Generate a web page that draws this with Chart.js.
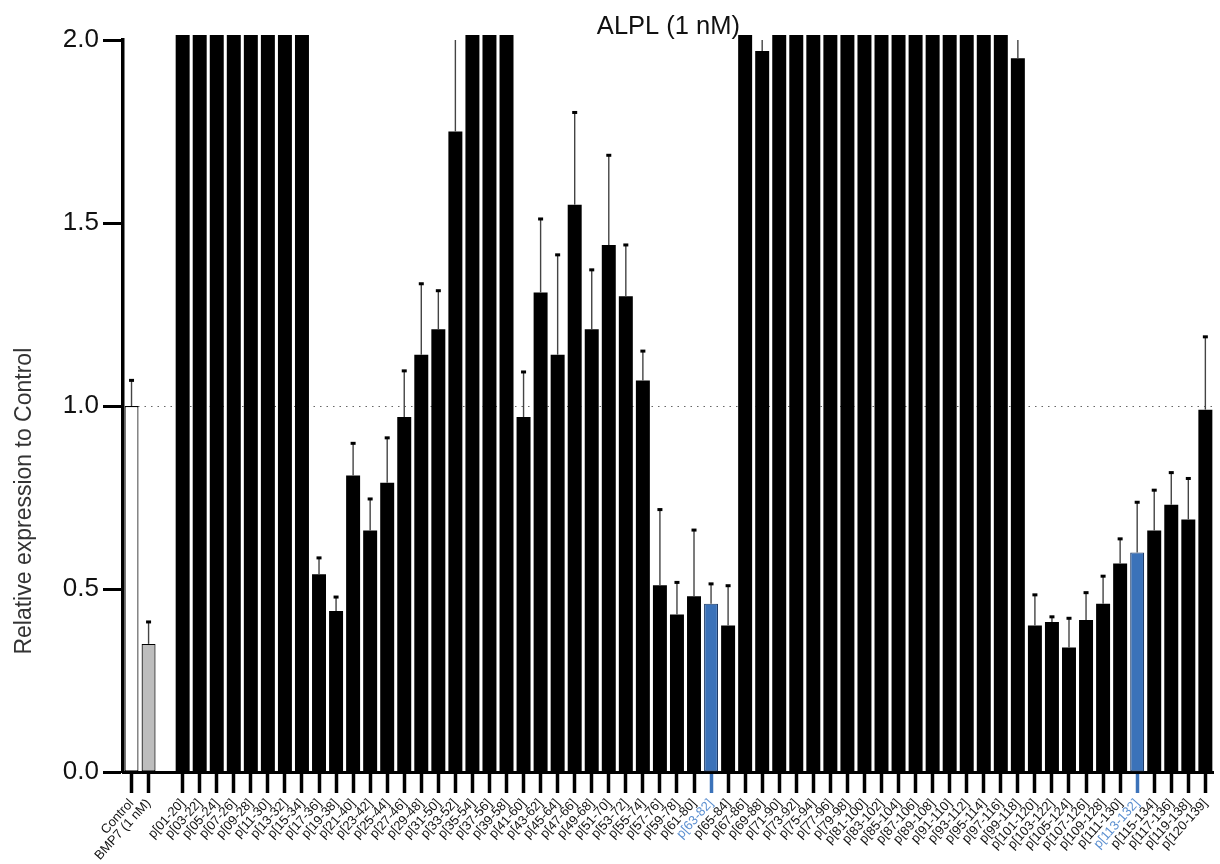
<!DOCTYPE html>
<html>
<head>
<meta charset="utf-8">
<script src="https://cdn.jsdelivr.net/npm/chart.js@4.4.1/dist/chart.umd.min.js"></script>
<style>
  html, body { margin: 0; padding: 0; background: #fff; }
  #wrap { width: 1220px; height: 864px; }
</style>
</head>
<body>
<div id="wrap"><canvas id="alplChart" width="1220" height="864"></canvas></div>
<script>
// categories ('' is the empty slot between controls and peptides)
const categories = ['Control', 'BMP7 (1 nM)', '',
  'p[01-20]', 'p[03-22]', 'p[05-24]', 'p[07-26]', 'p[09-28]', 'p[11-30]', 'p[13-32]', 'p[15-34]',
  'p[17-36]', 'p[19-38]', 'p[21-40]', 'p[23-42]', 'p[25-44]', 'p[27-46]', 'p[29-48]', 'p[31-50]',
  'p[33-52]', 'p[35-54]', 'p[37-56]', 'p[39-58]', 'p[41-60]', 'p[43-62]', 'p[45-64]', 'p[47-66]',
  'p[49-68]', 'p[51-70]', 'p[53-72]', 'p[55-74]', 'p[57-76]', 'p[59-78]', 'p[61-80]', 'p[63-82]',
  'p[65-84]', 'p[67-86]', 'p[69-88]', 'p[71-90]', 'p[73-92]', 'p[75-94]', 'p[77-96]', 'p[79-98]',
  'p[81-100]', 'p[83-102]', 'p[85-104]', 'p[87-106]', 'p[89-108]', 'p[91-110]', 'p[93-112]', 'p[95-114]',
  'p[97-116]', 'p[99-118]', 'p[101-120]', 'p[103-122]', 'p[105-124]', 'p[107-126]', 'p[109-128]', 'p[111-130]',
  'p[113-132]', 'p[115-134]', 'p[117-136]', 'p[119-138]', 'p[120-139]'];

// mean relative expression (bars running off the top are > 2.0)
const means = [1.00, 0.35, null,
  2.6, 2.6, 2.6, 2.6, 2.6, 2.6, 2.6, 2.6,
  0.54, 0.44, 0.81, 0.66, 0.79, 0.97, 1.14, 1.21,
  1.75, 2.6, 2.6, 2.6, 0.97, 1.31, 1.14, 1.55,
  1.21, 1.44, 1.30, 1.07, 0.51, 0.43, 0.48, 0.46,
  0.40, 2.6, 1.97, 2.6, 2.6, 2.6, 2.6, 2.6,
  2.6, 2.6, 2.6, 2.6, 2.6, 2.6, 2.6, 2.6,
  2.6, 1.95, 0.40, 0.41, 0.34, 0.415, 0.46, 0.57,
  0.60, 0.66, 0.73, 0.69, 0.99];

// top of the error bar (mean + SD)
const errTop = [1.07, 0.41, null,
  null, null, null, null, null, null, null, null,
  0.585, 0.478, 0.898, 0.746, 0.913, 1.096, 1.334, 1.315,
  2.1, null, null, null, 1.093, 1.511, 1.413, 1.802,
  1.372, 1.685, 1.44, 1.15, 0.717, 0.518, 0.661, 0.514,
  0.509, null, 2.05, null, null, null, null, null,
  null, null, null, null, null, null, null, null,
  null, 2.05, 0.484, 0.424, 0.42, 0.49, 0.535, 0.637,
  0.737, 0.77, 0.818, 0.802, 1.189];

const yTicks = [0, 0.5, 1.0, 1.5, 2.0];
const highlighted = ['p[63-82]', 'p[113-132]'];
const yTitle = 'Relative expression to Control';

const BLUE = '#3b72b9';
const fontFamily = "'Liberation Sans', Arial, sans-serif";

function fillFor(label) {
  if (label === 'Control') return '#ffffff';
  if (label === 'BMP7 (1 nM)') return '#bdbdbd';
  if (highlighted.includes(label)) return BLUE;
  return '#000000';
}

// dotted reference line at 1.0, drawn behind the bars
const refLine = {
  id: 'refLine',
  beforeDatasetsDraw(chart) {
    const { ctx, chartArea, scales } = chart;
    const y = Math.round(scales.y.getPixelForValue(1.0)) + 0.5;
    ctx.save();
    ctx.strokeStyle = '#666';
    ctx.lineWidth = 1.2;
    ctx.setLineDash([1.5, 5]);
    ctx.beginPath();
    ctx.moveTo(chartArea.left + 2, y);
    ctx.lineTo(chartArea.right, y);
    ctx.stroke();
    ctx.restore();
  }
};

// upward error bars with small caps
const errorBars = {
  id: 'errorBars',
  afterDatasetsDraw(chart) {
    const { ctx, chartArea, scales } = chart;
    const meta = chart.getDatasetMeta(0);
    ctx.save();
    errTop.forEach((e, i) => {
      if (e == null || means[i] == null) return;
      const x = meta.data[i].x;
      const y0 = scales.y.getPixelForValue(Math.min(means[i], 2));
      const clipped = e > scales.y.max;
      const y1 = clipped ? chartArea.top : scales.y.getPixelForValue(e);
      ctx.strokeStyle = '#444';
      ctx.lineWidth = 1.4;
      ctx.beginPath();
      ctx.moveTo(x, y0);
      ctx.lineTo(x, y1);
      ctx.stroke();
      if (!clipped) {
        ctx.fillStyle = '#000';
        ctx.fillRect(x - 2.5, y1 - 1.5, 5, 3);
      }
    });
    ctx.restore();
  }
};

// y axis title, sitting a little below the middle of the axis as in the figure
const yAxisTitle = {
  id: 'yAxisTitle',
  afterDraw(chart) {
    const { ctx, scales } = chart;
    const yMid = scales.y.getPixelForValue(0.74);
    ctx.save();
    ctx.translate(31, yMid);
    ctx.rotate(-Math.PI / 2);
    ctx.font = '23px ' + fontFamily;
    ctx.fillStyle = '#333';
    ctx.textAlign = 'center';
    ctx.textBaseline = 'alphabetic';
    ctx.fillText(yTitle, 0, 0);
    ctx.restore();
  }
};

const ctx = document.getElementById('alplChart').getContext('2d');

new Chart(ctx, {
  type: 'bar',
  data: {
    labels: categories,
    datasets: [{
      label: 'ALPL (1 nM)',
      data: means,
      backgroundColor: categories.map(fillFor),
      borderColor: categories.map(l => highlighted.includes(l) ? '#1d3a66' : '#000'),
      borderWidth: categories.map(l => (l === 'Control' || l === 'BMP7 (1 nM)' || highlighted.includes(l)) ? 1.2 : 0),
      borderSkipped: false,
      barPercentage: 0.82,
      categoryPercentage: 1.0,
      clip: { left: 0, right: 0, top: 5, bottom: 0 }
    }]
  },
  options: {
    responsive: false,
    animation: false,
    devicePixelRatio: 1,
    layout: { padding: { left: 0, right: 4, top: 0, bottom: 0 } },
    plugins: {
      legend: { display: false },
      tooltip: { enabled: false },
      title: {
        display: true,
        text: 'ALPL (1 nM)',
        fullSize: false,
        color: '#111',
        font: { family: fontFamily, size: 25.5, weight: 'normal', lineHeight: 1.0 },
        padding: { top: 14, bottom: 0.5 }
      }
    },
    scales: {
      x: {
        afterFit(scale) { scale.height = 92; },
        grid: {
          offset: false,
          drawOnChartArea: false,
          drawTicks: true,
          tickLength: 21,
          tickWidth: 3.5,
          tickColor: c => {
            const l = categories[c.index];
            if (l === '') return 'rgba(0,0,0,0)';
            return highlighted.includes(l) ? BLUE : '#000';
          }
        },
        border: { display: true, color: '#000', width: 3 },
        ticks: {
          autoSkip: false,
          maxRotation: 48,
          minRotation: 48,
          padding: 3,
          color: c => highlighted.includes(categories[c.index]) ? '#5b8fd0' : '#111',
          font: { family: fontFamily, size: 13 }
        }
      },
      y: {
        min: 0,
        max: 2,
        afterFit(scale) { scale.width = 123; },
        afterBuildTicks(scale) { scale.ticks = yTicks.map(v => ({ value: v })); },
        grid: {
          drawOnChartArea: false,
          drawTicks: true,
          tickLength: 20,
          tickWidth: 3,
          tickColor: '#000'
        },
        border: { display: true, color: '#000', width: 3.5 },
        ticks: {
          color: '#111',
          padding: 4,
          font: { family: fontFamily, size: 26 },
          callback: v => Number(v).toFixed(1)
        },
        title: { display: false, text: yTitle }
      }
    }
  },
  plugins: [refLine, errorBars, yAxisTitle]
});
</script>
</body>
</html>
